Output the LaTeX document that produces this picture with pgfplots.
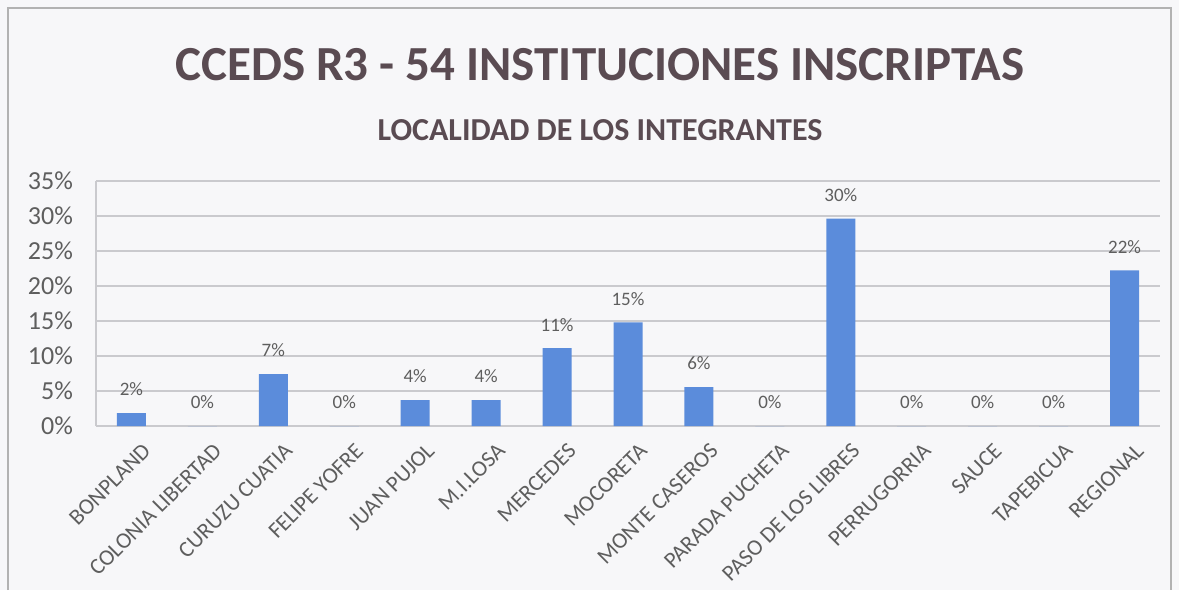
\documentclass[border=0pt]{standalone}
\usepackage{pgfplots}
\pgfplotsset{compat=1.18}
\usepackage{fontspec}
\setmainfont{Carlito}
\definecolor{barblue}{HTML}{5B8CDB}
\definecolor{titlec}{HTML}{5A4B52}
\definecolor{txtc}{HTML}{5E5E5E}
\definecolor{gridc}{HTML}{CACACE}
\definecolor{bgc}{HTML}{F7F7F9}
\begin{document}
\begin{tikzpicture}
\path[use as bounding box, fill=bgc] (0,0) rectangle (589.5pt,295pt);
\draw[gray!60, line width=0.8pt] (4pt,0) -- (4pt,291pt) -- (585.5pt,291pt) -- (585.5pt,0);
\node[font=\fontsize{24.5}{26}\selectfont\bfseries, text=titlec] at (300pt,262.5pt) {CCEDS R3 - 54 INSTITUCIONES INSCRIPTAS};
\node[font=\fontsize{16}{18}\selectfont\bfseries, text=titlec] at (300pt,230pt) {LOCALIDAD DE LOS INTEGRANTES};
\begin{axis}[
  at={(48pt,82pt)}, anchor=south west,
  scale only axis, width=532pt, height=122.5pt,
  xmin=-0.5, xmax=14.5, ymin=0, ymax=35,
  ytick={0,5,...,35},
  yticklabel={\pgfmathprintnumber{\tick}\%},
  /pgf/number format/assume math mode=true,
  yticklabel style={font=\fontsize{13}{14}\selectfont, text=txtc, xshift=-8pt},
  xtick=data,
  xticklabels={BONPLAND,COLONIA LIBERTAD,CURUZU CUATIA,FELIPE YOFRE,JUAN PUJOL,M.I.LOSA,MERCEDES,MOCORETA,MONTE CASEROS,PARADA PUCHETA,PASO DE LOS LIBRES,PERRUGORRIA,SAUCE,TAPEBICUA,REGIONAL},
  xticklabel style={font=\fontsize{11.3}{12}\selectfont, text=txtc, rotate=45, anchor=north east, inner sep=1pt, xshift=-1pt, yshift=-8pt},
  major tick length=0pt,
  ymajorgrids, grid style={gridc, line width=0.6pt},
  axis x line*=bottom, axis y line*=left,
  axis line style={gridc, line width=0.6pt},
  ybar, bar width=14.5pt,
  nodes near coords={\pgfmathprintnumber[fixed,precision=0]{\pgfplotspointmeta}\%},
  nodes near coords style={font=\fontsize{9.5}{10}\selectfont, text=txtc, anchor=south, yshift=5pt},
]
\addplot[fill=barblue, draw=none] coordinates {
(0,1.85) (1,0) (2,7.41) (3,0) (4,3.70) (5,3.70) (6,11.11) (7,14.81)
(8,5.56) (9,0) (10,29.63) (11,0) (12,0) (13,0) (14,22.22)};
\end{axis}
\end{tikzpicture}
\end{document}
